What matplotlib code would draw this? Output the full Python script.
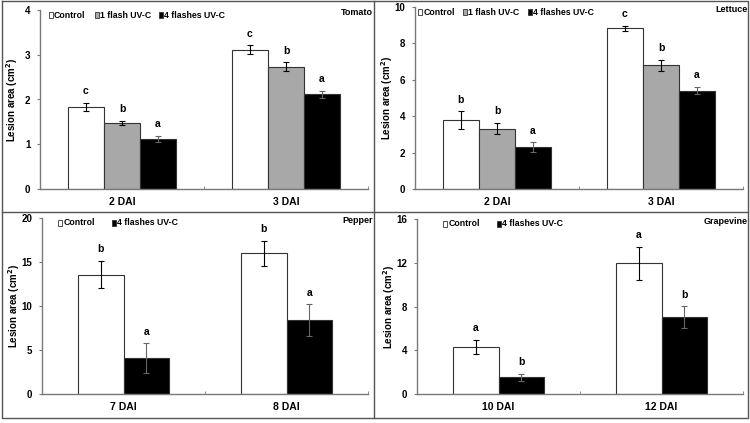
import numpy as np
import matplotlib
matplotlib.use('Agg')
import matplotlib.pyplot as plt
from matplotlib.patches import Rectangle
from matplotlib.lines import Line2D

plt.rcParams['font.family'] = ['Liberation Sans', 'DejaVu Sans']
plt.rcParams['font.weight'] = 'bold'

# ---- data ----
tomato_days = ['2 DAI', '3 DAI']
tomato_control = [1.84, 3.11]
tomato_control_err = [0.09, 0.10]
tomato_1flash = [1.48, 2.73]
tomato_1flash_err = [0.04, 0.10]
tomato_4flash = [1.12, 2.12]
tomato_4flash_err = [0.07, 0.08]
tomato_letters = [['c', 'c'], ['b', 'b'], ['a', 'a']]

lettuce_days = ['2 DAI', '3 DAI']
lettuce_control = [3.78, 8.83]
lettuce_control_err = [0.48, 0.15]
lettuce_1flash = [3.32, 6.81]
lettuce_1flash_err = [0.32, 0.30]
lettuce_4flash = [2.31, 5.41]
lettuce_4flash_err = [0.25, 0.18]
lettuce_letters = [['b', 'c'], ['b', 'b'], ['a', 'a']]

pepper_days = ['7 DAI', '8 DAI']
pepper_control = [13.56, 15.98]
pepper_control_err = [1.57, 1.45]
pepper_4flash = [4.09, 8.41]
pepper_4flash_err = [1.70, 1.80]
pepper_letters = [['b', 'b'], ['a', 'a']]

grape_days = ['10 DAI', '12 DAI']
grape_control = [4.31, 11.96]
grape_control_err = [0.67, 1.50]
grape_4flash = [1.53, 7.03]
grape_4flash_err = [0.34, 1.00]
grape_letters = [['a', 'a'], ['b', 'b']]

W, H = 750, 423
fig = plt.figure(figsize=(7.5, 4.23), dpi=100, facecolor='white')

def px_axes(x0, x1, ytop, ybot):
    return fig.add_axes([x0 / W, 1 - ybot / H, (x1 - x0) / W, (ybot - ytop) / H])

colors3 = ['white', '#a8a8a8', 'black']
colors2 = ['white', 'black']
axis_grey = '#7a7a7a'

def draw_panel(ax, days, series, errs, letters, colors, width, ymax, yticks, name, labels, leg_x, leg_sp):
    x = np.arange(len(days))
    n = len(series)
    for i, (vals, err, col, lets) in enumerate(zip(series, errs, colors, letters)):
        pos = x + (i - (n - 1) / 2) * width
        ax.bar(pos, vals, width, color=col, edgecolor='#333333', linewidth=0.8, zorder=2)
        ax.errorbar(pos, vals, yerr=err, fmt='none', ecolor='black' if col != 'black' else '#666666',
                    elinewidth=0.8, capsize=2, capthick=0.8, zorder=3)
        for p, v, e, l in zip(pos, vals, err, lets):
            ax.text(p, v + e + 0.065 * ymax, l, ha='center', va='center', fontsize=7.5, fontweight='bold')
    ax.set_xlim(-0.5, 1.5)
    ax.set_ylim(0, ymax)
    ax.set_yticks(yticks)
    ax.set_yticklabels([str(t) for t in yticks], fontsize=7, fontweight='bold')
    ax.set_xticks(x)
    ax.set_xticklabels(days, fontsize=7.5, fontweight='bold')
    ax.tick_params(axis='x', which='major', length=0, pad=6)
    ax.set_xticks([0.5, 1.5], minor=True)
    ax.tick_params(axis='x', which='minor', direction='in', length=2.5, color=axis_grey)
    ax.tick_params(axis='y', direction='out', length=2, color=axis_grey, pad=5)
    for s in ['top', 'right']:
        ax.spines[s].set_visible(False)
    for s in ['left', 'bottom']:
        ax.spines[s].set_color(axis_grey)
        ax.spines[s].set_linewidth(1.0)
    ax.set_ylabel('Lesion area (cm$^2$)', fontsize=7, fontweight='bold')
    ax.yaxis.set_label_coords(-0.062, 0.5)
    ax.text(1.015, 0.985, name, transform=ax.transAxes, ha='right', va='center', fontsize=6.5, fontweight='bold')
    # legend: small squares + labels
    for j, (lab, col) in enumerate(zip(labels, colors)):
        lx = leg_x + leg_sp[j]
        ax.add_patch(Rectangle((lx, 0.955), 0.013, 0.033, transform=ax.transAxes, facecolor=col,
                               edgecolor='#333333', linewidth=0.6, clip_on=False))
        ax.text(lx + 0.016, 0.972, lab, transform=ax.transAxes, ha='left', va='center',
                fontsize=6.3, fontweight='bold')

ax_t = px_axes(40, 368, 10, 189)
draw_panel(ax_t, tomato_days, [tomato_control, tomato_1flash, tomato_4flash],
           [tomato_control_err, tomato_1flash_err, tomato_4flash_err], tomato_letters,
           colors3, 0.22, 4, [0, 1, 2, 3, 4], 'Tomato',
           ['Control', '1 flash UV-C', '4 flashes UV-C'], 0.027, [0, 0.141, 0.336])

ax_l = px_axes(415, 743, 7, 189)
draw_panel(ax_l, lettuce_days, [lettuce_control, lettuce_1flash, lettuce_4flash],
           [lettuce_control_err, lettuce_1flash_err, lettuce_4flash_err], lettuce_letters,
           colors3, 0.22, 10, [0, 2, 4, 6, 8, 10], 'Lettuce',
           ['Control', '1 flash UV-C', '4 flashes UV-C'], 0.009, [0, 0.137, 0.336])

ax_p = px_axes(42, 368, 218, 394)
draw_panel(ax_p, pepper_days, [pepper_control, pepper_4flash],
           [pepper_control_err, pepper_4flash_err], pepper_letters,
           colors2, 0.28, 20, [0, 5, 10, 15, 20], 'Pepper',
           ['Control', '4 flashes UV-C'], 0.049, [0, 0.166])

ax_g = px_axes(417, 743, 219, 394)
draw_panel(ax_g, grape_days, [grape_control, grape_4flash],
           [grape_control_err, grape_4flash_err], grape_letters,
           colors2, 0.28, 16, [0, 4, 8, 12, 16], 'Grapevine',
           ['Control', '4 flashes UV-C'], 0.08, [0, 0.166])

# panel frame lines
frame_kw = dict(transform=fig.transFigure, color='#555555', linewidth=1.0)
fig.add_artist(Line2D([2 / W, 748 / W, 748 / W, 2 / W, 2 / W],
                      [1 - 1 / H, 1 - 1 / H, 1 - 418 / H, 1 - 418 / H, 1 - 1 / H], **frame_kw))
fig.add_artist(Line2D([374 / W, 374 / W], [1 - 1 / H, 1 - 418 / H], **frame_kw))
fig.add_artist(Line2D([2 / W, 748 / W], [1 - 212 / H, 1 - 212 / H], **frame_kw))

fig.savefig('out.png', dpi=100, facecolor='white')
